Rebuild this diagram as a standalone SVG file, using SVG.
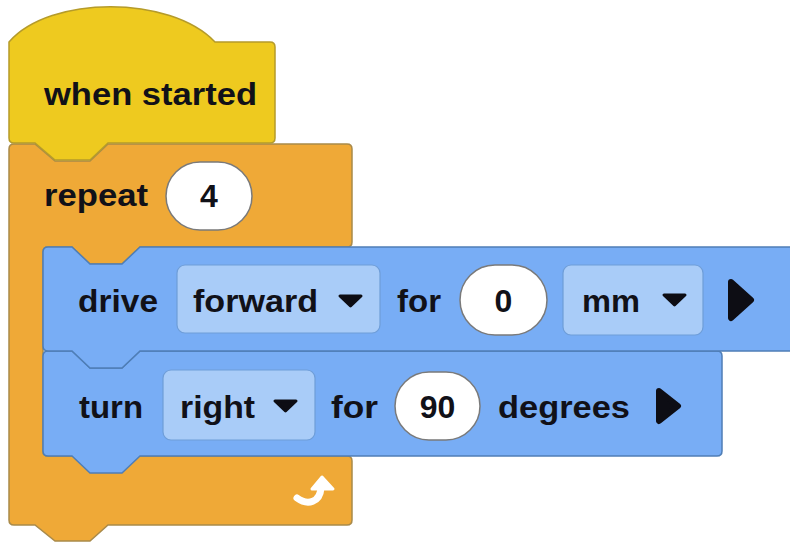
<svg xmlns="http://www.w3.org/2000/svg" width="790" height="545" viewBox="0 0 790 545">
  <defs>
    <style>
      .lbl { font-family: "Liberation Sans", Arial, sans-serif; font-weight: bold; font-size: 32px; fill: #111118; }
      .num { text-anchor: middle; }
      .hat { fill: #EECA1F; stroke: #B59B2A; stroke-width: 1.5; }
      .ctl { fill: #EFA937; stroke: #A98A4A; stroke-width: 1.5; }
      .mot { fill: #78ADF5; stroke: #4F7EB6; stroke-width: 1.5; }
      .drop { fill: #A9CCF8; stroke: #6E9DD8; stroke-width: 1.2; }
      .oval { fill: #FFFFFF; stroke: #7A7A7A; stroke-width: 1.5; }
      .tri { fill: #0D0D14; stroke: #0D0D14; stroke-width: 3; stroke-linejoin: round; }
      .play { fill: #0D0D14; stroke: #0D0D14; stroke-width: 6; stroke-linejoin: round; }
    </style>
  </defs>

  <!-- repeat C-block -->
  <g id="repeat">
    <path class="ctl" d="M9,149 Q9,144 14,144 L35,144 L55,161 L90,161 L108,144 L347,144 Q352,144 352,149 L352,242 Q352,247 347,247 L140,247 L122,264 L90,264 L72,247 L48,247 Q43,247 43,252 L43,451 Q43,456 48,456 L347,456 Q352,456 352,461 L352,520 Q352,525 347,525 L108,525 L90,541 L55,541 L35,525 L14,525 Q9,525 9,520 Z"/>
    <text class="lbl" x="44" y="206" textLength="104" lengthAdjust="spacingAndGlyphs">repeat</text>
    <rect class="oval" x="166" y="162" width="86" height="68" rx="34"/>
    <text class="lbl num" x="209" y="207">4</text>
    <!-- loop-back arrow -->
    <path d="M297,498 C308,506 320,502 321,488" fill="none" stroke="#FFFFFF" stroke-width="7" stroke-linecap="round"/>
    <polygon points="312,489 322,477 333,489" fill="#FFFFFF" stroke="#FFFFFF" stroke-width="3" stroke-linejoin="round"/>
  </g>

  <!-- hat block -->
  <g id="when-started">
    <path class="hat" d="M9,42 C50,-5 170,-5 215,42 L270,42 Q275,42 275,47 L275,138 Q275,143 270,143 L108,143 L90,160 L55,160 L35,143 L14,143 Q9,143 9,138 Z"/>
    <text class="lbl" x="44" y="105" textLength="213" lengthAdjust="spacingAndGlyphs">when started</text>
  </g>

  <!-- turn block -->
  <g id="turn">
    <path class="mot" d="M43,356 Q43,351 48,351 L72,351 L90,368 L122,368 L140,351 L717,351 Q722,351 722,356 L722,451 Q722,456 717,456 L140,456 L122,473 L90,473 L72,456 L48,456 Q43,456 43,451 Z"/>
    <text class="lbl" x="79" y="418" textLength="64" lengthAdjust="spacingAndGlyphs">turn</text>
    <rect class="drop" x="163" y="370" width="152" height="70" rx="8"/>
    <text class="lbl" x="180" y="418" textLength="75" lengthAdjust="spacingAndGlyphs">right</text>
    <polygon class="tri" points="275,401 296,401 285.5,411"/>
    <text class="lbl" x="331" y="418" textLength="47" lengthAdjust="spacingAndGlyphs">for</text>
    <rect class="oval" x="395" y="372" width="85" height="68" rx="34"/>
    <text class="lbl num" x="437.5" y="418">90</text>
    <text class="lbl" x="498" y="418" textLength="132" lengthAdjust="spacingAndGlyphs">degrees</text>
    <path class="play" d="M659,391 L678,406 L659,421 Z"/>
  </g>

  <!-- drive block -->
  <g id="drive">
    <path class="mot" d="M43,252 Q43,247 48,247 L72,247 L90,264 L122,264 L140,247 L796,247 L796,351 L140,351 L122,368 L90,368 L72,351 L48,351 Q43,351 43,346 Z"/>
    <text class="lbl" x="78" y="312" textLength="80" lengthAdjust="spacingAndGlyphs">drive</text>
    <rect class="drop" x="177" y="265" width="203" height="68" rx="8"/>
    <text class="lbl" x="193" y="312" textLength="125" lengthAdjust="spacingAndGlyphs">forward</text>
    <polygon class="tri" points="340,296 361,296 350.5,306"/>
    <text class="lbl" x="397" y="312" textLength="44" lengthAdjust="spacingAndGlyphs">for</text>
    <rect class="oval" x="460" y="265" width="87" height="70" rx="35"/>
    <text class="lbl num" x="503.5" y="312">0</text>
    <rect class="drop" x="563" y="265" width="140" height="70" rx="8"/>
    <text class="lbl" x="582" y="312" textLength="58" lengthAdjust="spacingAndGlyphs">mm</text>
    <polygon class="tri" points="664,295 685,295 674.5,305"/>
    <path class="play" d="M731,282 L751,300 L731,318 Z"/>
  </g>
</svg>
